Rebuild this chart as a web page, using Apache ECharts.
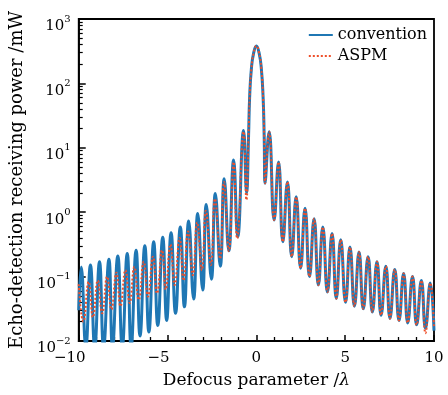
<!DOCTYPE html>
<html><head><meta charset="utf-8">
<script src="https://cdn.jsdelivr.net/npm/echarts@6/dist/echarts.min.js"></script>
<style>html,body{margin:0;padding:0;background:#fff}#c{width:448px;height:395px}</style>
</head><body><div id="c"></div>
<script>
// ---- data: [defocus parameter /λ, power /mW] ----
const seriesNames = ['convention', 'ASPM'];
const xTickValues = [-10, -5, 0, 5, 10];
const yTickValues = [0.01, 0.1, 1, 10, 100, 1000];

const convention = [
  [-10,0.03],[-9.86,0.141],[-9.6,0.008],[-9.34,0.151],[-9.1,0.008],[-8.83,0.17],[-8.6,0.008],
  [-8.30,0.186],[-8.1,0.008],[-7.80,0.209],[-7.55,0.008],[-7.27,0.229],[-7.05,0.008],
  [-6.77,0.257],[-6.55,0.012],[-6.28,0.302],[-6.05,0.0138],[-5.78,0.347],[-5.55,0.0174],
  [-5.27,0.407],[-5.05,0.0209],[-4.80,0.479],[-4.55,0.0269],[-4.28,0.589],[-4.05,0.0339],
  [-3.81,0.733],[-3.53,0.0447],[-3.30,0.955],[-3.02,0.0617],[-2.82,1.32],[-2.53,0.0912],
  [-2.31,1.95],[-2.03,0.145],[-1.81,3.31],[-1.55,0.251],[-1.28,6.46],[-1.05,0.417],
  [-0.72,18.6],[-0.55,2.0],
  [-0.44,15],[-0.38,60],[-0.28,170],[-0.15,300],[0,380],[0.15,300],[0.28,170],[0.38,60],[0.44,15],
  [0.49,2.82],[0.72,17.8],[1.0,0.759],[1.25,6.03],[1.49,0.347],[1.75,2.95],[1.99,0.204],
  [2.24,1.74],[2.49,0.135],[2.74,1.15],[2.99,0.1],[3.25,0.794],[3.49,0.0741],[3.74,0.589],
  [4.0,0.0575],[4.26,0.468],[4.5,0.0457],[4.75,0.372],[5.02,0.0398],[5.27,0.288],[5.52,0.0347],
  [5.78,0.24],[6.02,0.0316],[6.29,0.204],[6.53,0.0282],[6.79,0.17],[7.02,0.0251],[7.29,0.145],
  [7.52,0.0224],[7.79,0.129],[8.03,0.0209],[8.29,0.112],[8.52,0.0191],[8.79,0.1],[9.02,0.0178],
  [9.29,0.087],[9.52,0.0158],[9.79,0.0794],[10,0.0145]
];

const aspm = [
  [-10,0.076],[-9.74,0.02],[-9.44,0.083],[-9.2,0.0234],[-8.93,0.087],[-8.68,0.0269],[-8.4,0.1],
  [-8.16,0.0309],[-7.88,0.115],[-7.65,0.0347],[-7.37,0.126],[-7.13,0.0389],[-6.87,0.141],
  [-6.62,0.0437],[-6.34,0.17],[-6.1,0.049],[-5.82,0.204],[-5.59,0.055],[-5.31,0.257],[-5.1,0.063],
  [-4.84,0.316],[-4.6,0.0741],[-4.32,0.398],[-4.1,0.087],[-3.84,0.5],[-3.58,0.105],[-3.33,0.69],
  [-3.07,0.126],[-2.84,1.05],[-2.56,0.151],[-2.33,1.62],[-2.04,0.19],[-1.82,2.95],[-1.55,0.25],
  [-1.28,6.0],[-1.08,0.39],[-0.72,17.8],[-0.56,1.55],
  [-0.44,15],[-0.38,60],[-0.28,170],[-0.15,300],[0,380],[0.15,300],[0.28,170],[0.38,60],[0.44,15],
  [0.49,2.82],[0.72,17.8],[1.0,0.759],[1.25,6.03],[1.49,0.347],[1.75,2.95],[1.99,0.204],
  [2.24,1.74],[2.49,0.135],[2.74,1.15],[2.99,0.1],[3.25,0.794],[3.49,0.0741],[3.74,0.589],
  [4.0,0.0575],[4.26,0.468],[4.5,0.0457],[4.75,0.372],[5.02,0.0398],[5.27,0.288],[5.52,0.0347],
  [5.78,0.24],[6.02,0.0316],[6.29,0.204],[6.53,0.0282],[6.79,0.17],[7.02,0.0251],[7.29,0.145],
  [7.52,0.0224],[7.79,0.129],[8.03,0.0209],[8.29,0.112],[8.52,0.0191],[8.79,0.1],[9.02,0.0178],
  [9.29,0.087],[9.52,0.0132],[9.79,0.0794],[10,0.0165]
];

// minor log ticks 2..9 per decade
const yMinorTicks = [];
for (let e = -2; e < 3; e++) for (let k = 2; k < 10; k++) yMinorTicks.push(+(k * Math.pow(10, e)).toPrecision(3));

const FONT = 'DejaVu Serif';
const BLUE = '#1f77b4';
const RED = '#ee4f2a';
const chart = echarts.init(document.getElementById('c'), null, {renderer: 'canvas'});
chart.setOption({
  animation: false,
  grid: {left: 78, right: 14, top: 19, bottom: 54, show: true, borderColor: '#000', borderWidth: 1.8},
  legend: {
    data: seriesNames, orient: 'vertical', align: 'left', right: 21, top: 27, padding: 0,
    itemWidth: 24, itemHeight: 16, itemGap: 5,
    itemStyle: {color: 'rgba(0,0,0,0)', borderColor: 'rgba(0,0,0,0)', borderWidth: 0, opacity: 0},
    textStyle: {fontSize: 16, fontFamily: FONT, color: '#000', lineHeight: 16}
  },
  xAxis: {
    type: 'value', min: -10, max: 10, interval: 5,
    axisLine: {show: true, onZero: false, lineStyle: {color: '#000', width: 1.8}},
    axisTick: {show: true, inside: true, length: 6, lineStyle: {color: '#000', width: 1.5}},
    minorTick: {show: true, splitNumber: 5, length: 4, lineStyle: {color: '#000', width: 1.3}},
    splitLine: {show: false}, minorSplitLine: {show: false},
    axisLabel: {
      margin: 10, customValues: xTickValues,
      formatter: v => v < 0 ? '{n|' + String(v).replace('-', '\u2212') + '}' : '{p|' + v + '}',
      rich: {
        n: {fontSize: 15, fontFamily: FONT, color: '#000', padding: [0, 18, 0, 0]},
        p: {fontSize: 15, fontFamily: FONT, color: '#000'}
      }
    },
    name: 'Defocus parameter /{i|λ}', nameLocation: 'middle', nameGap: 31,
    nameTextStyle: {fontSize: 17, fontFamily: FONT, color: '#000',
      rich: {i: {fontStyle: 'italic', fontSize: 17, fontFamily: FONT, color: '#000'}}}
  },
  yAxis: [{
    type: 'log', logBase: 10, min: 0.01, max: 1000,
    axisLine: {show: true, onZero: false, lineStyle: {color: '#000', width: 1.8}},
    axisTick: {show: true, inside: true, length: 7, lineStyle: {color: '#000', width: 1.5}},
    splitLine: {show: false},
    axisLabel: {
      margin: 8, customValues: yTickValues, padding: [10, 0, 0, 0],
      formatter: v => '{b|10}{s|' + String(Math.round(Math.log10(v))).replace('-', '\u2212') + '}',
      rich: {
        b: {fontSize: 15, fontFamily: FONT, color: '#000', lineHeight: 20, verticalAlign: 'bottom'},
        s: {fontSize: 10, fontFamily: FONT, color: '#000', lineHeight: 8, verticalAlign: 'top'}
      }
    },
    name: 'Echo-detection receiving power /mW', nameLocation: 'middle', nameGap: 50,
    nameTextStyle: {fontSize: 18, fontFamily: FONT, color: '#000'}
  }, {
    type: 'log', logBase: 10, min: 0.01, max: 1000, position: 'left',
    axisLine: {show: false, onZero: false}, splitLine: {show: false}, axisLabel: {show: false},
    axisTick: {show: true, inside: true, length: 4, customValues: yMinorTicks, lineStyle: {color: '#000', width: 1.2}}
  }],
  series: [
    {name: 'convention', type: 'line', data: convention, smooth: 0.5, symbol: 'none', z: 2,
      lineStyle: {color: BLUE, width: 3}, itemStyle: {color: BLUE}},
    {name: 'ASPM', type: 'line', data: aspm, smooth: 0.5, symbol: 'none', z: 3,
      lineStyle: {color: RED, width: 2, type: [2, 2]}, itemStyle: {color: RED}}
  ]
});
</script>
</body></html>
